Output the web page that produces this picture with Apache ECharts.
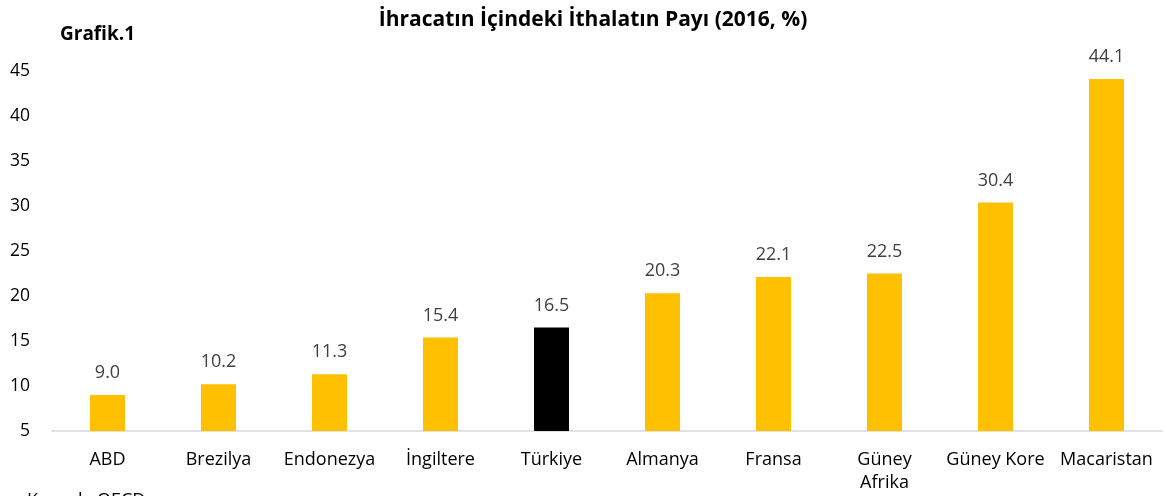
<!DOCTYPE html>
<html lang="tr">
<head>
  <meta charset="UTF-8">
  <title>Grafik.1</title>
  <style>
    html, body { margin: 0; padding: 0; background: #fff; }
  </style>
</head>
<body>
  <div id="main" style="width: 1164px;height:496px;"></div>
  <script src="https://cdn.jsdelivr.net/npm/echarts@6/dist/echarts.min.js"></script>
  <script type="text/javascript">
    // veriler
    var ulkeler = ['ABD', 'Brezilya', 'Endonezya', 'İngiltere', 'Türkiye', 'Almanya', 'Fransa', 'Güney\nAfrika', 'Güney Kore', 'Macaristan'];
    var paylar = [9.0, 10.2, 11.3, 15.4, 16.5, 20.3, 22.1, 22.5, 30.4, 44.1];
    var vurgulu = 'Türkiye';

    var font = '"Open Sans", "Liberation Sans", sans-serif';
    var myChart = echarts.init(document.getElementById('main'));

    var barData = paylar.map(function (v, i) {
      return {
        value: v,
        itemStyle: { color: ulkeler[i] === vurgulu ? '#000000' : '#ffc000' }
      };
    });

    var option = {
      backgroundColor: '#ffffff',
      animation: false,
      textStyle: { fontFamily: font },
      title: [{
        text: 'İhracatın İçindeki İthalatın Payı (2016, %)',
        left: 588,
        textAlign: 'center',
        top: 5,
        textStyle: { fontFamily: font, fontSize: 21, fontWeight: 'bold', color: '#000' }
      }, {
        text: 'Grafik.1',
        left: 55,
        top: 20,
        textStyle: { fontFamily: font, fontSize: 19, fontWeight: 'bold', color: '#000' }
      }, {
        text: 'Kaynak: OECD',
        left: 22,
        top: 487,
        textStyle: { fontFamily: font, fontSize: 18, fontWeight: 'normal', color: '#000' }
      }],
      grid: {
        left: 52,
        right: 2,
        top: 71,
        bottom: 65,
        containLabel: false
      },
      xAxis: {
        type: 'category',
        data: ulkeler,
        axisTick: { show: false },
        axisLine: { lineStyle: { color: '#d9d9d9', width: 1.5 } },
        axisLabel: {
          color: '#000',
          fontSize: 18,
          fontFamily: font,
          margin: 17,
          lineHeight: 23,
          interval: 0
        }
      },
      yAxis: {
        type: 'value',
        min: 5,
        max: 45,
        interval: 5,
        axisLine: { show: false },
        axisTick: { show: false },
        splitLine: { show: false },
        axisLabel: { color: '#000', fontSize: 17.5, fontFamily: font, margin: 22 }
      },
      series: [{
        type: 'bar',
        data: barData,
        barWidth: 35,
        label: {
          show: true,
          position: 'top',
          distance: 13,
          color: '#404040',
          fontSize: 18,
          fontFamily: font,
          formatter: function (p) { return p.value.toFixed(1); }
        }
      }]
    };

    myChart.setOption(option);
  </script>
</body>
</html>
